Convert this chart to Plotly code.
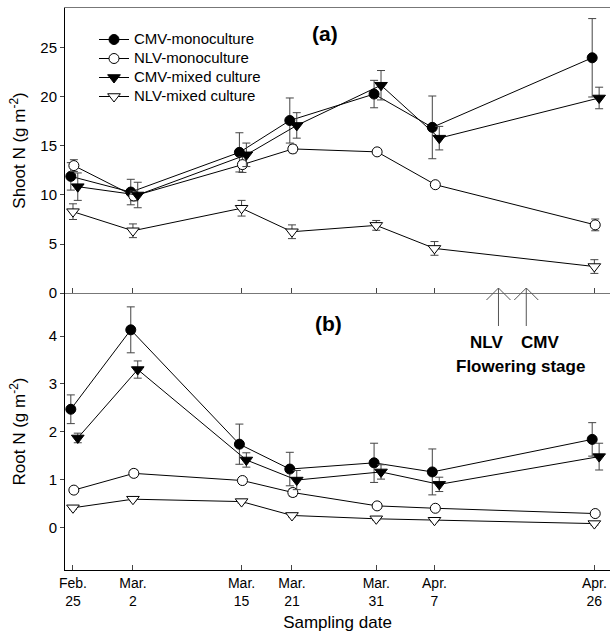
import plotly.graph_objects as go

# ---- data ----
date_pos = [0, 6.9, 19.4, 25.2, 34.9, 41.6, 60.0]
month_labels = ["Feb.", "Mar.", "Mar.", "Mar.", "Mar.", "Apr.", "Apr."]
day_labels = ["25", "2", "15", "21", "31", "7", "26"]

series_names = ["CMV-monoculture", "NLV-monoculture", "CMV-mixed culture", "NLV-mixed culture"]

shoot_cmv_mono = [11.9, 10.3, 14.35, 17.6, 20.3, 16.9, 24.0]
shoot_cmv_mono_err = [1.4, 1.3, 2.0, 2.3, 1.4, 3.2, 4.0]
shoot_nlv_mono = [13.0, 9.9, 13.1, 14.7, 14.4, 11.05, 6.95]
shoot_nlv_mono_err = [0.6, 0.5, 0.8, 0.4, 0.3, 0.2, 0.6]
shoot_cmv_mix = [10.85, 10.0, 14.1, 17.1, 21.2, 15.8, 19.9]
shoot_cmv_mix_err = [1.4, 1.3, 1.2, 1.3, 1.5, 1.2, 1.1]
shoot_nlv_mix = [8.3, 6.35, 8.65, 6.25, 6.9, 4.55, 2.7]
shoot_nlv_mix_err = [0.8, 0.7, 0.8, 0.7, 0.5, 0.7, 0.7]

root_cmv_mono = [2.47, 4.13, 1.74, 1.22, 1.35, 1.16, 1.84]
root_cmv_mono_err = [0.3, 0.48, 0.42, 0.35, 0.41, 0.48, 0.35]
root_nlv_mono = [0.78, 1.13, 0.98, 0.73, 0.45, 0.40, 0.29]
root_nlv_mono_err = [0.03, 0.07, 0.04, 0.08, 0.03, 0.03, 0.03]
root_cmv_mix = [1.87, 3.3, 1.41, 0.99, 1.16, 0.9, 1.48]
root_cmv_mix_err = [0.1, 0.18, 0.15, 0.2, 0.15, 0.15, 0.28]
root_nlv_mix = [0.41, 0.59, 0.54, 0.25, 0.18, 0.15, 0.08]
root_nlv_mix_err = [0.03, 0.03, 0.03, 0.03, 0.03, 0.03, 0.03]

flowering_nlv = 49.0
flowering_cmv = 52.2

# ---- styles ----
W, H = 610, 642
ML, MR, MT, MB = 65, 0, 8, 72
FONT = "Liberation Sans, Arial, sans-serif"
styles = [
    dict(symbol="circle", color="black", off=-0.25),
    dict(symbol="circle", color="white", off=0.1),
    dict(symbol="triangle-down", color="black", off=0.55),
    dict(symbol="triangle-down", color="white", off=0.0),
]
shoot = [(shoot_cmv_mono, shoot_cmv_mono_err), (shoot_nlv_mono, shoot_nlv_mono_err),
         (shoot_cmv_mix, shoot_cmv_mix_err), (shoot_nlv_mix, shoot_nlv_mix_err)]
root = [(root_cmv_mono, root_cmv_mono_err), (root_nlv_mono, root_nlv_mono_err),
        (root_cmv_mix, root_cmv_mix_err), (root_nlv_mix, root_nlv_mix_err)]

fig = go.Figure()
for panel, (data, xa, ya) in enumerate([(shoot, "x", "y"), (root, "x2", "y2")]):
    for i, ((vals, errs), st, name) in enumerate(zip(data, styles, series_names)):
        fig.add_trace(go.Scatter(
            x=[p + st["off"] for p in date_pos], y=vals,
            error_y=dict(type="data", array=errs, visible=True, color="#444", thickness=1, width=4),
            mode="lines+markers",
            name=f'<span style="font-size:15px">{name}</span>',
            showlegend=(panel == 0), cliponaxis=False,
            line=dict(color="black", width=1),
            marker=dict(symbol=st["symbol"], size=10 if "circle" in st["symbol"] else 11,
                        color=st["color"], line=dict(color="black", width=1)),
            xaxis=xa, yaxis=ya,
        ))

plot_w = W - ML - MR
plot_h = H - MT - MB
split = (570 - 293) / plot_h

def px(x):
    return (x - ML) / plot_w

def py(y):
    return (H - MB - y) / plot_h

xrange_ = [-0.92, 61.8]
ticktext = [m + "<br>" + d for m, d in zip(month_labels, day_labels)]

fig.update_layout(
    width=W, height=H,
    margin=dict(l=ML, r=MR, t=MT, b=MB, autoexpand=False),
    plot_bgcolor="white", paper_bgcolor="white",
    font=dict(family=FONT, size=14, color="black"),
    showlegend=True,
    legend=dict(x=px(94), y=py(25), xanchor="left", yanchor="top",
                bgcolor="rgba(0,0,0,0)", font=dict(size=12), itemwidth=30,
                tracegroupgap=0),
    xaxis=dict(domain=[0, 1], anchor="y", range=xrange_, tickvals=date_pos,
               showticklabels=False, ticks="inside", ticklen=5, tickcolor="#444",
               showline=True, linecolor="#777", linewidth=1, mirror=True,
               showgrid=False, zeroline=False, automargin=False),
    yaxis=dict(domain=[split, 1], anchor="x", range=[0, 29.08],
               tickvals=[0, 5, 10, 15, 20, 25], ticks="outside", ticklen=4, tickcolor="#444",
               tickfont=dict(size=15), automargin=False,
               showline=True, linecolor="black", linewidth=1, showgrid=False, zeroline=False,
               title=dict(text="Shoot N (g m<sup>-2</sup>)", font=dict(size=17), standoff=10)),
    xaxis2=dict(domain=[0, 1], anchor="y2", range=xrange_, tickvals=date_pos, ticktext=ticktext,
                ticks="inside", ticklen=5, tickcolor="#444", automargin=False,
                showline=True, linecolor="black", linewidth=1, showgrid=False, zeroline=False,
                tickfont=dict(size=14),
                title=dict(text="Sampling date", font=dict(size=17), standoff=8)),
    yaxis2=dict(domain=[0, split], anchor="x2", range=[-0.89, 4.9],
                tickvals=[0, 1, 2, 3, 4], ticks="outside", ticklen=4, tickcolor="#444",
                tickfont=dict(size=15), automargin=False,
                showline=True, linecolor="black", linewidth=1, showgrid=False, zeroline=False,
                title=dict(text="Root N (g m<sup>-2</sup>)", font=dict(size=17), standoff=18)),
)

# panel labels and flowering annotation
ann = dict(showarrow=False, xanchor="center", yanchor="middle")
fig.add_annotation(text="<b>(a)</b>", x=px(325), y=py(33), xref="paper", yref="paper",
                   font=dict(size=21), **ann)
fig.add_annotation(text="<b>(b)</b>", x=px(328), y=py(323), xref="paper", yref="paper",
                   font=dict(size=21), **ann)
fig.add_annotation(text="<b>NLV</b>", x=flowering_nlv - 1.4, y=py(342), xref="x2", yref="paper",
                   font=dict(size=17), **ann)
fig.add_annotation(text="<b>CMV</b>", x=flowering_cmv + 1.6, y=py(342), xref="x2", yref="paper",
                   font=dict(size=17), **ann)
fig.add_annotation(text="<b>Flowering stage</b>", x=(flowering_nlv + flowering_cmv) / 2 + 0.9,
                   y=py(366), xref="x2", yref="paper", font=dict(size=17), **ann)

# open-headed arrows
day_px = (594 - 73) / 60.0
for d in (flowering_nlv, flowering_cmv):
    xc = 73 + d * day_px
    tip, base = 288, 326
    path = (f"M {px(xc)} {py(base)} L {px(xc)} {py(tip)} "
            f"M {px(xc - 12)} {py(tip + 12)} L {px(xc)} {py(tip)} L {px(xc + 12)} {py(tip + 12)}")
    fig.add_shape(type="path", path=path, xref="paper", yref="paper",
                  line=dict(color="#555", width=1))

fig.write_html("out.html", config={"displayModeBar": False},
               post_script="document.body.style.margin='0px';document.body.style.overflow='hidden';")
